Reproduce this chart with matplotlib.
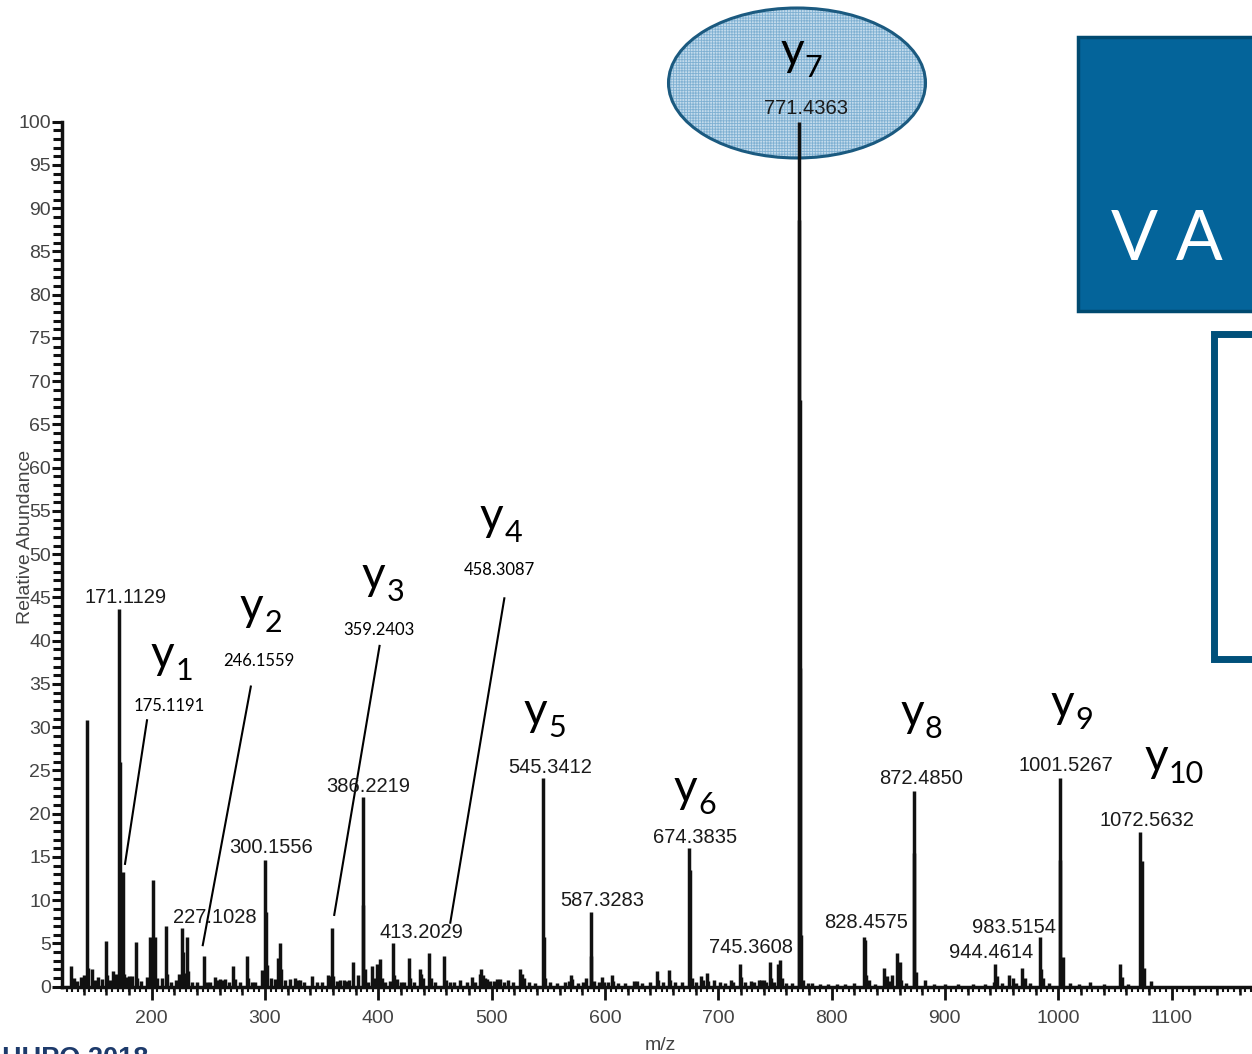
import matplotlib
matplotlib.use("Agg")
import matplotlib.pyplot as plt
from matplotlib.patches import Ellipse, Rectangle
from matplotlib.ticker import MultipleLocator, FixedLocator

plt.rcParams['font.family'] = ['Liberation Sans', 'DejaVu Sans']
plt.rcParams['hatch.linewidth'] = 0.6

# ---------------- spectrum data: m/z and relative abundance (%) ----------------
peak_mz = [
    128.9, 131.8, 134.5, 137.5, 140.2, 143.1, 144.2, 147.2, 150.0, 153.0,
    156.5, 159.6, 160.7, 163.5, 166.3, 168.5, 171.1129, 172.0, 175.1191, 176.1,
    178.1, 180.5, 183.0, 186.0, 187.2, 190.5, 195.8, 198.5, 201.6, 202.7,
    205.0, 209.0, 212.5, 213.6, 217.5, 222.0, 224.5, 226.6, 227.7, 229.5,
    231.1, 232.3, 236.0, 240.5, 246.1559, 248.5, 251.7, 256.1, 258.5, 260.5,
    263.0, 264.9, 268.0, 272.2, 273.4, 278.0, 284.1, 285.2, 288.5, 291.4,
    297.3, 300.1556, 301.3, 302.3, 305.0, 309.0, 312.0, 313.5, 314.6, 318.0,
    322.0, 326.7, 329.0, 331.1, 334.5, 341.5, 346.0, 350.5, 356.1, 357.5,
    359.2403, 360.3, 364.0, 366.5, 369.4, 371.5, 373.8, 377.7, 382.5, 386.2219,
    386.9, 388.3, 391.0, 394.5, 396.0, 399.0, 401.2, 403.0, 406.0, 410.0,
    413.2029, 414.3, 417.0, 420.0, 422.4, 426.8, 428.0, 432.0, 436.5, 437.6,
    439.5, 445.1, 446.3, 450.0, 458.3087, 459.5, 463.6, 467.0, 472.5, 478.0,
    482.8, 485.0, 489.5, 491.0, 492.5, 494.5, 496.0, 499.0, 501.9, 505.0,
    507.8, 511.0, 514.6, 519.0, 525.5, 526.7, 528.4, 533.0, 538.0, 545.3412,
    546.0, 547.5, 552.0, 558.0, 565.0, 568.5, 570.2, 571.4, 576.0, 581.0,
    583.7, 587.3283, 588.0, 590.0, 594.5, 597.6, 599.0, 603.0, 606.4, 607.6,
    612.0, 618.0, 625.5, 628.5, 633.0, 640.0, 646.2, 647.3, 651.0, 656.8,
    657.9, 662.0, 668.0, 674.3835, 674.9, 677.0, 680.0, 684.5, 686.5, 689.7,
    691.0, 696.2, 702.0, 706.0, 710.9, 713.0, 719.1, 720.2, 724.0, 728.6,
    731.5, 735.9, 738.0, 740.3, 742.0, 745.3608, 746.4, 749.0, 752.8, 754.4,
    756.0, 760.0, 765.0, 770.9, 771.4363, 771.9, 772.44, 773.4, 775.0, 779.0,
    783.0, 790.0, 797.0, 805.0, 812.0, 820.0, 828.4575, 829.5, 830.8, 833.1,
    838.0, 846.3, 847.4, 849.3, 851.5, 853.7, 857.5, 858.6, 860.2, 861.5,
    866.0, 872.4850, 873.0, 874.9, 882.2, 890.0, 900.0, 912.0, 925.0, 935.0,
    943.0, 944.4614, 945.6, 950.0, 956.7, 959.7, 963.0, 968.5, 970.8, 975.0,
    983.5154, 984.4, 986.2, 992.0, 1001.5267, 1002.0, 1003.8, 1010.0, 1018.0, 1028.2,
    1040.0, 1054.4, 1056.2, 1062.0, 1072.5632, 1073.6, 1075.4, 1081.8,
]
peak_int = [
    2.4, 1.0, 0.7, 1.1, 1.4, 30.8, 2.2, 2.0, 0.8, 1.1,
    0.9, 5.3, 1.3, 0.8, 1.8, 1.5, 43.7, 26.0, 13.3, 1.5,
    1.1, 1.2, 1.2, 5.2, 1.0, 0.7, 1.1, 5.8, 12.3, 5.8,
    1.0, 1.0, 7.0, 1.5, 0.6, 0.8, 1.5, 6.8, 4.0, 1.6,
    5.8, 1.8, 0.6, 0.6, 3.6, 0.6, 0.5, 1.1, 0.8, 0.9,
    0.8, 0.9, 0.6, 2.4, 0.9, 0.5, 3.6, 1.0, 0.6, 0.6,
    1.9, 14.7, 8.6, 2.5, 1.0, 0.9, 3.3, 5.0, 2.0, 0.8,
    0.9, 1.0, 0.8, 0.8, 0.6, 1.2, 0.5, 0.6, 1.4, 1.2,
    6.8, 1.2, 0.7, 0.8, 0.8, 0.7, 0.8, 2.8, 1.3, 21.9,
    9.4, 2.0, 0.6, 2.4, 1.0, 2.6, 3.2, 1.0, 0.6, 0.7,
    5.0, 1.3, 0.9, 0.6, 0.6, 3.3, 1.0, 0.6, 2.0, 1.5,
    1.0, 3.9, 1.0, 0.6, 3.6, 0.8, 0.5, 0.6, 0.8, 0.6,
    1.1, 0.6, 1.5, 2.0, 1.4, 1.0, 0.9, 0.7, 0.7, 0.9,
    0.9, 0.6, 0.8, 0.5, 2.1, 1.5, 1.0, 0.5, 0.4, 24.1,
    5.8, 1.0, 0.5, 0.4, 0.5, 0.7, 1.4, 0.9, 0.4, 0.5,
    1.0, 8.6, 3.6, 0.7, 0.5, 1.1, 0.6, 0.6, 1.4, 0.7,
    0.4, 0.4, 0.7, 0.7, 0.4, 0.5, 1.8, 0.8, 0.5, 1.9,
    0.8, 0.5, 0.5, 16.0, 13.5, 1.0, 0.6, 1.2, 0.8, 1.6,
    0.7, 0.8, 0.5, 0.4, 0.8, 0.6, 2.6, 1.1, 0.5, 0.7,
    0.6, 0.8, 0.8, 0.8, 0.6, 2.8, 1.0, 0.5, 2.6, 3.1,
    1.0, 0.4, 0.4, 88.6, 100.0, 67.8, 36.8, 6.0, 0.8, 0.4,
    0.4, 0.3, 0.3, 0.3, 0.3, 0.4, 5.8, 5.4, 1.4, 0.8,
    0.3, 2.2, 1.0, 1.2, 0.7, 1.3, 3.9, 1.5, 2.9, 0.8,
    0.4, 22.6, 15.5, 1.7, 0.8, 0.3, 0.3, 0.3, 0.3, 0.3,
    0.6, 2.6, 1.2, 0.4, 1.4, 1.0, 0.4, 2.2, 1.0, 0.4,
    5.8, 2.0, 1.0, 0.4, 24.1, 14.6, 3.4, 0.4, 0.3, 0.5,
    0.3, 2.6, 1.1, 0.3, 17.9, 14.5, 2.2, 0.7,
]

# peaks annotated with their m/z in the spectrum font
spec_label_mz = [171.1129, 300.1556, 227.1028, 386.2219, 413.2029, 545.3412,
                 587.3283, 674.3835, 745.3608, 771.4363, 828.4575, 872.4850,
                 944.4614, 983.5154, 1001.5267, 1072.5632]
# text centres (m/z, abundance) for those annotations
spec_label_pos = [(177.5, 45.0), (305.5, 16.1), (256.1, 8.0), (391.2, 23.1),
                  (438.0, 6.3), (551.5, 25.3), (597.9, 10.0), (680.0, 17.25),
                  (728.6, 4.5), (777.1, 101.5), (830.6, 7.4), (879.1, 24.1),
                  (941.0, 3.95), (961.3, 6.85), (1006.8, 25.6), (1078.7, 19.2)]

# y-ion series
ion_sub = ['1', '2', '3', '4', '5', '6', '7', '8', '9', '10']
ion_mz = [175.1191, 246.1559, 359.2403, 458.3087, 545.3412,
          674.3835, 771.4363, 872.4850, 1001.5267, 1072.5632]
# anchor of each ion label: (m/z, abundance) at the baseline, between 'y' and index
ion_label_pos = [(219.9, 36.8), (298.6, 42.4), (406.2, 46.0), (510.4, 52.8),
                 (549.3, 30.3), (681.8, 21.4), (775.4, 106.6), (881.3, 30.1),
                 (1013.9, 31.2), (1096.8, 24.9)]
# extra m/z captions under the first four ion labels, and their leader lines
ion_caption_pos = [(215.5, 32.4), (295.0, 37.65), (401.0, 41.2), (506.9, 48.2)]
leader_lines = [((196.0, 30.8), (176.6, 14.2)),
                ((287.6, 34.7), (245.2, 4.8)),
                ((401.2, 39.4), (361.2, 8.3)),
                ((511.3, 44.9), (463.6, 7.4))]

x_range = (121, 1171)
y_ticks = list(range(0, 101, 5))
x_ticks = list(range(200, 1101, 100))

# ---------------- figure ----------------
W, H = 1252, 1054
fig = plt.figure(figsize=(W / 100, H / 100), dpi=100)
fig.patch.set_facecolor('white')

# background layer in pixel coordinates
bg = fig.add_axes([0, 0, 1, 1], zorder=-1)
bg.set_xlim(0, W)
bg.set_ylim(H, 0)
bg.axis('off')

# highlighted base peak ellipse
bg.add_patch(Ellipse((797, 83), 257, 150, facecolor='#c3dbec', edgecolor='#7fb0d2',
                     hatch='++++++', lw=0))
bg.add_patch(Ellipse((797, 83), 257, 150, facecolor='none', edgecolor='#1b5a80', lw=2.2))

# side panels
bg.add_patch(Rectangle((1078, 37), 220, 274, facecolor='#04649a', edgecolor='#004a70', lw=2.5))
bg.text(1111, 240, 'V A', color='white', fontsize=50, family=['Lato', 'DejaVu Sans'],
        weight='normal', ha='left', va='center')
bg.add_patch(Rectangle((1213.5, 333.5), 120, 325, facecolor='white', edgecolor='#00507a', lw=5))
bg.text(2, 1066, 'HUPO 2018', color='#1d3a6b', fontsize=19.5, weight='bold',
        ha='left', va='baseline')

# spectrum axes
y0_px, y100_px, x0_px = 986.7, 121.7, 62
ax = fig.add_axes([x0_px / W, (H - y0_px) / H, (W - x0_px) / W, (y0_px - y100_px) / H], zorder=1)
ax.patch.set_alpha(0)
ax.set_xlim(*x_range)
ax.set_ylim(0, 100)

ax.vlines(peak_mz, 0, peak_int, colors='#111111', lw=2.5)

for sp in ('top', 'right'):
    ax.spines[sp].set_visible(False)
for sp in ('left', 'bottom'):
    ax.spines[sp].set_linewidth(2.5)
    ax.spines[sp].set_color('#111111')

ax.set_yticks(y_ticks)
ax.set_yticklabels([str(v) for v in y_ticks])
ax.yaxis.set_minor_locator(MultipleLocator(1))
ax.set_xticks(x_ticks)
ax.set_xticklabels([str(v) for v in x_ticks])
ax.xaxis.set_minor_locator(MultipleLocator(5))

ax.tick_params(axis='y', which='major', length=7.5, width=2.2, pad=0.5,
               labelsize=14, labelcolor='#444444', color='#111111')
ax.tick_params(axis='y', which='minor', length=6.5, width=2.2, color='#111111')
ax.tick_params(axis='x', which='major', length=9, width=2, pad=8,
               labelsize=14, labelcolor='#444444', color='#111111')
ax.tick_params(axis='x', which='minor', length=3.5, width=1.5, color='#111111')

# intermediate ticks every 20 m/z
sec = ax.secondary_xaxis('bottom')
sec.xaxis.set_major_locator(FixedLocator([v for v in range(120, 1180, 20) if v % 100]))
sec.tick_params(length=6, width=1.8, labelbottom=False, color='#111111')
sec.spines['bottom'].set_visible(False)

ax.text(-0.031, 0.52, 'Relative Abundance', transform=ax.transAxes, rotation=90,
        ha='center', va='center', fontsize=14, color='#444444')
ax.text(0.5025, -0.0674, 'm/z', transform=ax.transAxes, ha='center', va='center',
        fontsize=14, color='#444444')

# peak m/z annotations
for mz, (tx, ty) in zip(spec_label_mz, spec_label_pos):
    ax.text(tx, ty, f'{mz:.4f}', ha='center', va='center', fontsize=14.5,
            color='#1a1a1a', clip_on=False, zorder=5)

# y-ion labels
calibri_like = ['Lato', 'DejaVu Sans']
for sub, (lx, ly) in zip(ion_sub, ion_label_pos):
    ax.annotate('y', xy=(lx, ly), xycoords='data', ha='right', va='baseline',
                fontsize=33, family=calibri_like, color='black',
                annotation_clip=False, zorder=5)
    ax.annotate(sub, xy=(lx, ly), xycoords='data', xytext=(0.8, -8.6),
                textcoords='offset points', ha='left', va='baseline',
                fontsize=22, family=calibri_like, color='black',
                annotation_clip=False, zorder=5)

for mz, (cx, cy) in zip(ion_mz[:4], ion_caption_pos):
    ax.text(cx, cy, f'{mz:.4f}', ha='center', va='center', fontsize=12,
            family=calibri_like, color='black', clip_on=False, zorder=5)

for (xa, ya), (xb, yb) in leader_lines:
    ax.plot([xa, xb], [ya, yb], color='black', lw=1.5, clip_on=False, zorder=4)

fig.savefig('out.png', dpi=100, facecolor='white')
